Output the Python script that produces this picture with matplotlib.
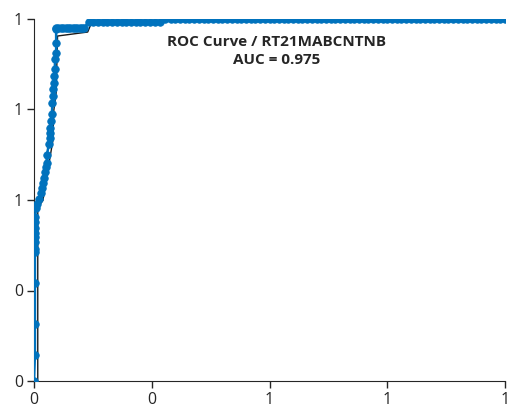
import matplotlib
matplotlib.use('Agg')
import matplotlib.pyplot as plt

# ROC points (blue, with markers)
roc_fpr = [0.0, 0.002, 0.002, 0.002, 0.002, 0.002, 0.002, 0.002, 0.002, 0.002, 0.002, 0.002,
           0.004, 0.006, 0.011, 0.015, 0.017, 0.019, 0.021, 0.023, 0.025, 0.027, 0.027,
           0.032, 0.033, 0.034, 0.034, 0.036, 0.038, 0.039, 0.040, 0.041, 0.042, 0.043,
           0.044, 0.045, 0.047, 0.047, 0.047,
           0.047, 0.052, 0.057, 0.062, 0.067, 0.072, 0.077, 0.082, 0.087, 0.092, 0.097, 0.102, 0.106,
           0.116, 0.126, 0.136, 0.146, 0.156, 0.166, 0.176, 0.186, 0.196, 0.206, 0.216, 0.226,
           0.236, 0.246, 0.256, 0.268,
           0.279, 0.29, 0.30, 0.31, 0.32, 0.33, 0.34, 0.35, 0.36, 0.37, 0.38, 0.39, 0.40,
           0.41, 0.42, 0.43, 0.44, 0.45, 0.46, 0.47, 0.48, 0.49, 0.50, 0.51, 0.52, 0.53,
           0.54, 0.55, 0.56, 0.57, 0.58, 0.59, 0.60, 0.61, 0.62, 0.63, 0.64, 0.65, 0.66,
           0.67, 0.68, 0.69, 0.70, 0.71, 0.72, 0.73, 0.74, 0.75, 0.76, 0.77, 0.78, 0.79,
           0.80, 0.81, 0.82, 0.83, 0.84, 0.85, 0.86, 0.87, 0.88, 0.89, 0.90, 0.91, 0.92,
           0.93, 0.94, 0.95, 0.96, 0.97, 0.98, 0.99, 1.0]
roc_tpr = [0.0, 0.072, 0.157, 0.270, 0.355, 0.366, 0.383, 0.397, 0.410, 0.424, 0.438, 0.452,
           0.477, 0.490, 0.504, 0.518, 0.534, 0.548, 0.562, 0.576, 0.590, 0.603, 0.623,
           0.656, 0.672, 0.686, 0.700, 0.719, 0.738, 0.769, 0.788, 0.807, 0.824, 0.843,
           0.862, 0.890, 0.906, 0.934, 0.972,
           0.975, 0.975, 0.975, 0.975, 0.975, 0.975, 0.975, 0.975, 0.975, 0.975, 0.975, 0.975, 0.975,
           0.992, 0.992, 0.992, 0.992, 0.992, 0.992, 0.992, 0.992, 0.992, 0.992, 0.992, 0.992,
           0.992, 0.992, 0.992, 0.992] + [1.0] * 73

# second curve (thin black line)
fit_fpr = [0.008, 0.008, 0.019, 0.025, 0.040, 0.042, 0.047, 0.050, 0.114, 0.120, 0.279, 0.290, 1.0]
fit_tpr = [0.0, 0.479, 0.499, 0.548, 0.664, 0.747, 0.796, 0.953, 0.964, 0.983, 0.994, 1.0, 1.0]

tick_vals = [0, 0.25, 0.5, 0.75, 1]
tick_labels = ['0', '0', '1', '1', '1']

plt.rcParams['font.family'] = ['Open Sans', 'DejaVu Sans']

fig = plt.figure(figsize=(5.09, 4.13), dpi=100)
ax = fig.add_axes([34 / 509, 32 / 413, 471 / 509, 362 / 413])

ax.plot(fit_fpr, fit_tpr, color='#1a1a1a', lw=1.0, zorder=2)
ax.plot(roc_fpr, roc_tpr, color='#0072BD', lw=1.8, marker='o', markersize=5.4,
        markeredgewidth=0.6, markeredgecolor='#0072BD', zorder=3)

ax.set_xlim(0, 1)
ax.set_ylim(0, 1)
ax.set_xticks(tick_vals)
ax.set_xticklabels(tick_labels)
ax.set_yticks(tick_vals)
ax.set_yticklabels(tick_labels)
ax.tick_params(direction='out', length=5, width=1, labelsize=11.5, colors='#262626', pad=3)
for side in ['top', 'right']:
    ax.spines[side].set_visible(False)
for side in ['left', 'bottom']:
    ax.spines[side].set_color('#262626')

ax.text(0.515, 0.955, 'ROC Curve / RT21MABCNTNB\nAUC = 0.975', transform=ax.transAxes,
        ha='center', va='top', fontsize=11, fontweight='bold', color='#262626',
        linespacing=1.3)

fig.savefig('out.png', dpi=100)
